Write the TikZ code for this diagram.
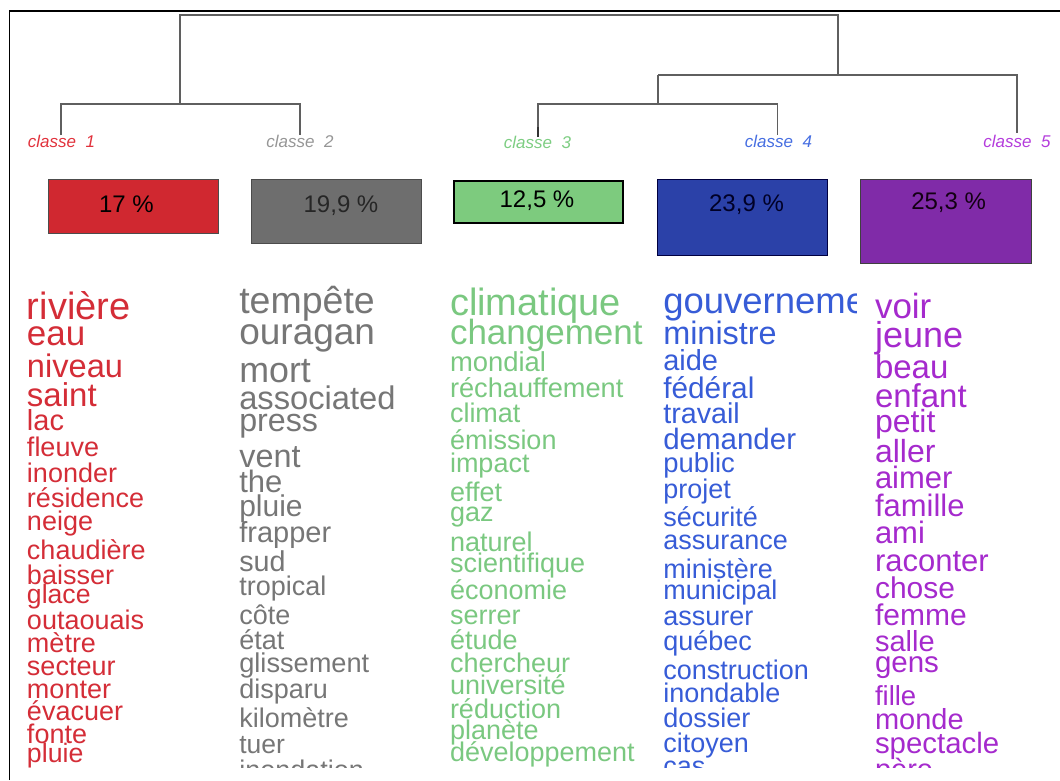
\documentclass[tikz,border=0pt]{standalone}
\usepackage{fontspec}
\setmainfont{Liberation Sans}
\newcommand\fsz[1]{\fontsize{#1}{#1}\selectfont}
\definecolor{cred}{RGB}{212,45,55}
\definecolor{cgrey}{RGB}{118,118,118}
\definecolor{cgreen}{RGB}{122,200,128}
\definecolor{cblue}{RGB}{55,92,215}
\definecolor{cpurple}{RGB}{165,42,205}
\definecolor{lred}{RGB}{225,50,60}
\definecolor{lgrey}{RGB}{150,150,150}
\definecolor{lgreen}{RGB}{125,205,130}
\definecolor{lblue}{RGB}{70,110,225}
\definecolor{lpurple}{RGB}{180,60,220}
\definecolor{bred}{RGB}{208,40,48}
\definecolor{bgrey}{RGB}{110,110,110}
\definecolor{bgreen}{RGB}{125,203,126}
\definecolor{bblue}{RGB}{43,65,168}
\definecolor{bpurple}{RGB}{128,43,168}
\definecolor{dendro}{RGB}{95,95,95}
\begin{document}
\begin{tikzpicture}[x=1pt,y=-1pt,
  word/.style={anchor=base west,inner sep=0pt,outer sep=0pt},
  clabel/.style={anchor=base,inner sep=0pt,font=\fsz{17}\itshape},
  pbox/.style={draw,line width=1pt,anchor=north west,inner sep=0pt},
  ptext/.style={anchor=base,inner sep=0pt,font=\fsz{24}},
  dline/.style={draw=dendro,line width=1.4pt}]
\useasboundingbox (0,0) rectangle (1060,780);
% frame
\coordinate (fa) at (9.3,780);
\coordinate (fb) at (9.3,11);
\coordinate (fc) at (1060,11);
\draw[line width=1.6pt,black] (fa) -- (fb) -- (fc);
% dendrogram coordinates
\coordinate (k1) at (61,135);
\coordinate (k2) at (300,135);
\coordinate (k3) at (538,137);
\coordinate (k4) at (777.6,135);
\coordinate (k5) at (1017,133);
\coordinate (a1) at (61,104);
\coordinate (a2) at (300,104);
\coordinate (ja) at (180,104);
\coordinate (ta) at (180,15);
\coordinate (tb) at (838,15);
\coordinate (jb) at (838,75);
\coordinate (b34) at (658,75);
\coordinate (b5) at (1017,75);
\coordinate (jc) at (658,104);
\coordinate (c3) at (538,104);
\coordinate (c4) at (777.6,104);
\coordinate (k3t) at (538,127);
\draw[dline] (k1) -- (a1) -- (a2) -- (k2);
\draw[dline] (ja) -- (ta) -- (tb) -- (jb);
\draw[dline] (b34) -- (b5) -- (k5);
\draw[dline] (b34) -- (jc);
\draw[dline] (k3) -- (c3) -- (c4) -- (k4);
\draw[draw=black!80,line width=2.6pt] (k3t) -- (k3);
% class labels
\node[clabel,text=lred] (l1) at (61.5,147) {classe\ \ 1};
\node[clabel,text=lgrey] (l2) at (300,147) {classe\ \ 2};
\node[clabel,text=lgreen] (l3) at (537.5,148) {classe\ \ 3};
\node[clabel,text=lblue] (l4) at (778.5,147) {classe\ \ 4};
\node[clabel,text=lpurple] (l5) at (1017,147) {classe\ \ 5};
% percentage boxes
\node[pbox,draw=black!70,fill=bred,minimum width=170.4pt,minimum height=54pt] (p1) at (47.6,179) {};
\node[pbox,draw=black!70,fill=bgrey,minimum width=170pt,minimum height=64pt] (p2) at (251,179) {};
\node[pbox,draw=black,line width=1.5pt,fill=bgreen,minimum width=169pt,minimum height=42pt] (p3) at (453,180) {};
\node[pbox,draw=black!75!blue,fill=bblue,minimum width=170pt,minimum height=76pt] (p4) at (657,179) {};
\node[pbox,draw=black!75,line width=1.4pt,fill=bpurple,minimum width=171pt,minimum height=84pt] (p5) at (860,179) {};
\node[ptext,text=black] (t1) at (126.5,212) {17 \%};
\node[ptext,text=black!85] (t2) at (341,212) {19,9 \%};
\node[ptext,text=black] (t3) at (537,207.5) {12,5 \%};
\node[ptext,text=black!85!blue] (t4) at (746.5,211) {23,9 \%};
\node[ptext,text=black!85!violet] (t5) at (948.6,209.5) {25,3 \%};
% word columns
\begin{scope}
\clip (0,270) rectangle (1060,767);
\foreach \wtxt/\wy/\wsz [count=\i] in {rivière/319/38, eau/345.7/35, niveau/377/32.6, saint/406.7/33, lac/430.7/29, fleuve/456/27, inonder/482.7/27, résidence/507/27, neige/530/27, chaudière/559/27, baisser/584/27, glace/603.3/26.6, outaouais/629.3/27, mètre/652.3/27, secteur/675/27, monter/698.3/27, évacuer/720/27, fonte/743.3/27, pluie/762.7/26.7}
  \node[word,text=cred,font=\fsz{\wsz}] (ca\i) at (27,\wy) {\wtxt};
\foreach \wtxt/\wy/\wsz [count=\i] in {tempête/313/37.5, ouragan/344/37, mort/382/35.8, associated/409/32.7, press/431/32.2, vent/467.5/32.4, the/492.7/31, pluie/516/30, frapper/542.7/29, sud/571.7/28.7, tropical/595/27, côte/624/27, état/649/27, glissement/672.5/27.2, disparu/698.5/27, kilomètre/727.7/27, tuer/753.3/26.5, inondation/779/27}
  \node[word,text=cgrey,font=\fsz{\wsz}] (cb\i) at (239.3,\wy) {\wtxt};
\foreach \wtxt/\wy/\wsz [count=\i] in {climatique/315.5/38, changement/344.5/35, mondial/371.7/27.4, réchauffement/397.5/27.2, climat/422.5/27, émission/449/27, impact/472.5/27, effet/501/27, gaz/521/27, naturel/551.5/27, scientifique/572.5/27, économie/599.5/27, serrer/624.5/27, étude/649/27, chercheur/672/27, université/694/27, réduction/718.5/27, planète/739/27, développement/761.5/27, gaz/787/27}
  \node[word,text=cgreen,font=\fsz{\wsz}] (cc\i) at (450,\wy) {\wtxt};
\begin{scope}
\clip (650,270) rectangle (856,767);
\foreach \wtxt/\wy/\wsz [count=\i] in {gouvernement/313.5/36.5, ministre/344.3/32.4, aide/370.5/29, fédéral/398/29.8, travail/423.5/28.7, demander/449.3/29.5, public/472/27.4, projet/498.5/27, sécurité/526/27, assurance/549.5/27, ministère/578.5/27, municipal/599.5/27, assurer/625.3/27, québec/650.5/27, construction/679.3/27, inondable/702.7/27, dossier/727.7/27, citoyen/752/27, cas/775/27}
  \node[word,text=cblue,font=\fsz{\wsz}] (cd\i) at (663.3,\wy) {\wtxt};
\end{scope}
\foreach \wtxt/\wy/\wsz [count=\i] in {voir/318.5/35, jeune/347/36, beau/378.3/33, enfant/407.7/33, petit/432/32, aller/462/32, aimer/488.7/31, famille/516.5/31, ami/543.7/31, raconter/571.5/31, chose/598.7/30, femme/625.3/30, salle/651.7/29, gens/672.5/29.5, fille/705/27.5, monde/729.7/29, spectacle/753/29.4, père/779/29}
  \node[word,text=cpurple,font=\fsz{\wsz}] (ce\i) at (875,\wy) {\wtxt};
\end{scope}
\end{tikzpicture}
\end{document}
